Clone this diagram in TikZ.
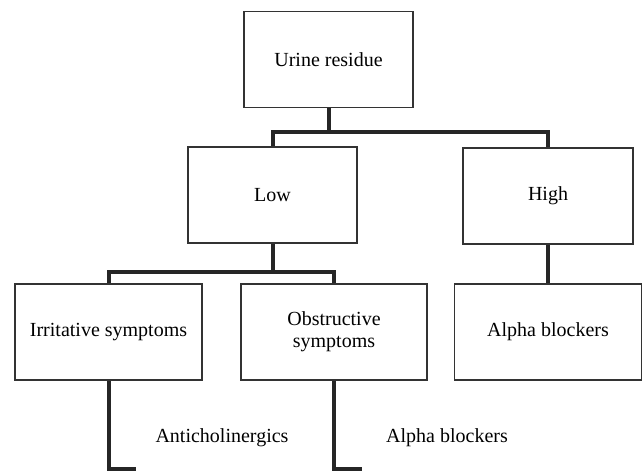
\documentclass[tikz,border=0pt]{standalone}
\usepackage{fontspec}
\setmainfont{Liberation Serif}
\usetikzlibrary{positioning}

\begin{document}
\begin{tikzpicture}[x=1pt,y=-1pt,
    box/.style={draw=black!80, line width=1.2pt, minimum height=96pt, inner sep=0pt,
        align=center, font=\fontsize{20}{22}\selectfont},
    link/.style={draw=black!85, line width=4pt},
    lbl/.style={font=\fontsize{20}{22}\selectfont}]
\useasboundingbox (0,0) rectangle (644,473);

% boxes
\node[box, minimum width=169pt] (urine) at (328.5,59.5) {Urine residue};
\node[box, minimum width=169pt] (low) at (272.5,195) {Low};
\node[box, minimum width=170pt] (high) at (548,196) {High};
\node[box, minimum width=187pt] (irrit) at (108.5,332) {Irritative symptoms};
\node[box, minimum width=186pt] (obstr) at (334,332) {Obstructive\\symptoms};
\node[box, minimum width=187pt] (alpha) at (548,332) {Alpha blockers};

% end labels
\node[lbl] (antichol) at (222,438) {Anticholinergics};
\node[lbl] (alphaend) at (447,438) {Alpha blockers};

\coordinate (split1) at (328.5,132);
\coordinate (split2) at (272.5,272);
\coordinate (end1) at (136,469);
\coordinate (end2) at (362,469);

% connectors
\draw[link] (urine.south) -- (split1);
\draw[link] (low.north) |- (split1) -| (high.north);
\draw[link] (low.south) -- (split2);
\draw[link] (irrit.north) |- (split2) -| (obstr.north);
\draw[link] (high.south) -- (alpha.north);
\draw[link] (irrit.south) |- (end1);
\draw[link] (obstr.south) |- (end2);
\end{tikzpicture}
\end{document}
